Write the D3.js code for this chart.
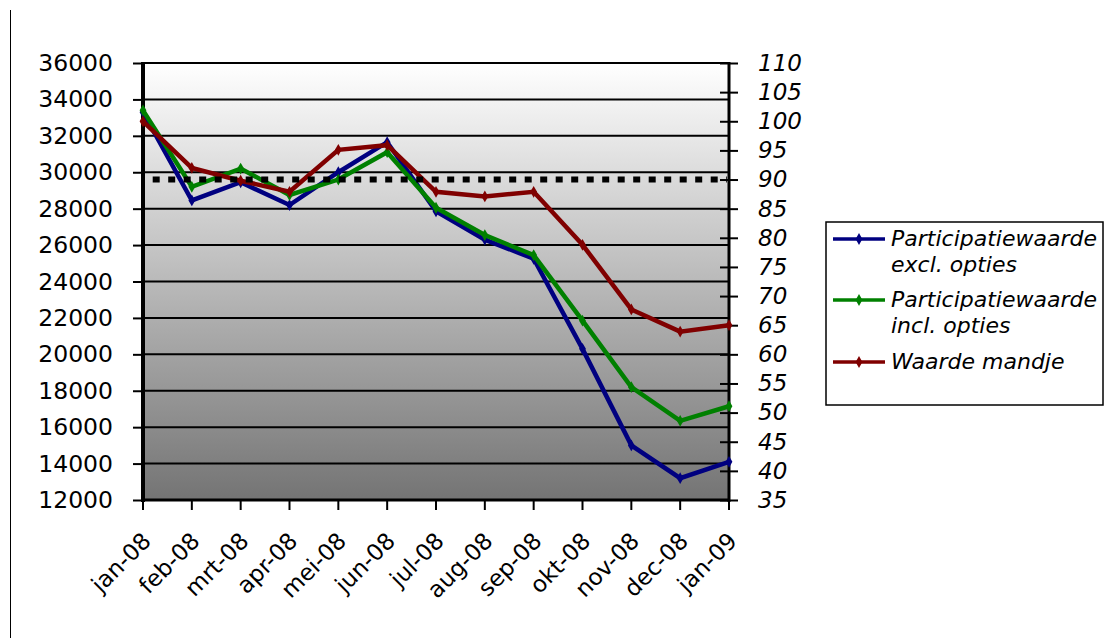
<!DOCTYPE html>
<html>
<head>
<meta charset="utf-8">
<script src="https://cdn.jsdelivr.net/npm/d3@7"></script>
<style>
html,body{margin:0;padding:0;background:#fff;}
svg{display:block;font-family:"DejaVu Sans",Verdana,sans-serif;}
</style>
</head>
<body>
<svg id="chart" width="1109" height="643"></svg>
<script>
const months = ["jan-08","feb-08","mrt-08","apr-08","mei-08","jun-08","jul-08","aug-08","sep-08","okt-08","nov-08","dec-08","jan-09"];
const exclOpties = [33300,28450,29450,28200,30000,31650,27850,26300,25250,20300,15000,13200,14100];
const inclOpties = [33400,29200,30200,28750,29600,31100,28050,26550,25450,21850,18200,16350,17150];
const waardeMandje = [100,92,89.8,87.9,95.1,95.9,87.9,87.1,87.9,78.8,67.7,63.9,65];
const referentie = 90;
const leftTicks = [12000,14000,16000,18000,20000,22000,24000,26000,28000,30000,32000,34000,36000];
const rightTicks = [35,40,45,50,55,60,65,70,75,80,85,90,95,100,105,110];
const seriesNames = ["Participatiewaarde excl. opties","Participatiewaarde incl. opties","Waarde mandje"];
const seriesColors = ["#000080","#008000","#800000"];

const svg = d3.select("#chart");
const L = 143, R = 729, T = 63, B = 500;

const x = d3.scalePoint().domain(months).range([L, R]);
const yL = d3.scaleLinear().domain([12000, 36000]).range([B, T]);
const yR = d3.scaleLinear().domain([35, 110]).range([B, T]);

// outer left frame line
svg.append("line").attr("x1",10.5).attr("x2",10.5).attr("y1",10).attr("y2",638)
  .attr("stroke","#000").attr("stroke-width",1);

// gradient background
const defs = svg.append("defs");
const grad = defs.append("linearGradient").attr("id","bg").attr("x1",0).attr("x2",0).attr("y1",0).attr("y2",1);
grad.append("stop").attr("offset","0%").attr("stop-color","#ffffff");
grad.append("stop").attr("offset","100%").attr("stop-color","#747474");
svg.append("rect").attr("x",L).attr("y",T).attr("width",R-L).attr("height",B-T).attr("fill","url(#bg)");

// gridlines
svg.append("g").selectAll("line").data(leftTicks.filter(d=>d>12000)).join("line")
  .attr("x1",L).attr("x2",R).attr("y1",d=>yL(d)).attr("y2",d=>yL(d))
  .attr("stroke","#000").attr("stroke-width",2);

// left axis
const gl = svg.append("g").attr("transform",`translate(${L},0)`)
  .call(d3.axisLeft(yL).tickValues(leftTicks).tickFormat(d=>String(d)).tickSize(10).tickPadding(20));
gl.select(".domain").remove();
gl.selectAll(".tick line").attr("stroke","#000").attr("stroke-width",2);
gl.selectAll(".tick text").attr("font-size",23.5).attr("fill","#000").attr("font-family","DejaVu Sans");
svg.append("line").attr("x1",L).attr("x2",L).attr("y1",T-1).attr("y2",B+2).attr("stroke","#000").attr("stroke-width",4);

// right axis
const gr = svg.append("g").attr("transform",`translate(${R},0)`)
  .call(d3.axisRight(yR).tickValues(rightTicks).tickSize(9).tickPadding(20));
gr.select(".domain").remove();
gr.selectAll(".tick line").attr("x1",-9).attr("stroke","#000").attr("stroke-width",2);
gr.selectAll(".tick text").attr("font-size",23).attr("fill","#000").attr("font-style","italic").attr("font-family","DejaVu Sans");
svg.append("line").attr("x1",R).attr("x2",R).attr("y1",T-1).attr("y2",B+2).attr("stroke","#000").attr("stroke-width",3);

// bottom axis
svg.append("line").attr("x1",L).attr("x2",R+1).attr("y1",B).attr("y2",B).attr("stroke","#000").attr("stroke-width",3);
const gx = svg.append("g");
gx.selectAll("line").data(months).join("line")
  .attr("x1",d=>x(d)).attr("x2",d=>x(d)).attr("y1",B).attr("y2",B+10)
  .attr("stroke","#000").attr("stroke-width",2);
gx.selectAll("text").data(months).join("text")
  .attr("transform",d=>`translate(${x(d)-2},${B+31}) rotate(-45)`)
  .attr("text-anchor","end").attr("dy","0.7em")
  .attr("font-size",23).text(d=>d);

// series
const allSeries = [
  {vals: exclOpties, scale: yL},
  {vals: inclOpties, scale: yL},
  {vals: waardeMandje, scale: yR}
];
const diamond = d3.symbol().type(d3.symbolDiamond).size(40);
allSeries.forEach((s,i)=>{
  const line = d3.line().x((d,j)=>x(months[j])).y(d=>s.scale(d));
  svg.append("path").datum(s.vals).attr("d",line).attr("fill","none")
    .attr("stroke",seriesColors[i]).attr("stroke-width",4.5).attr("stroke-linejoin","miter");
  svg.append("g").selectAll("path").data(s.vals).join("path")
    .attr("d",diamond).attr("transform",(d,j)=>`translate(${x(months[j])},${s.scale(d)})`)
    .attr("fill",seriesColors[i]);
});

// reference dotted line at 90
svg.append("line").attr("x1",L).attr("x2",R-2).attr("y1",yR(referentie)).attr("y2",yR(referentie))
  .attr("stroke","#000").attr("stroke-width",6).attr("stroke-dasharray","7 8.5").attr("stroke-dashoffset",5.8);

// legend
const lg = svg.append("g");
lg.append("rect").attr("x",826).attr("y",222).attr("width",277).attr("height",183)
  .attr("fill","#fff").attr("stroke","#000").attr("stroke-width",1.5);
const legendRows = [
  {lines:["Participatiewaarde","excl. opties"], y:239},
  {lines:["Participatiewaarde","incl. opties"], y:300},
  {lines:["Waarde mandje"], y:362}
];
legendRows.forEach((r,i)=>{
  lg.append("line").attr("x1",833).attr("x2",885).attr("y1",r.y).attr("y2",r.y)
    .attr("stroke",seriesColors[i]).attr("stroke-width",3.5);
  lg.append("path").attr("d",diamond).attr("transform",`translate(859,${r.y})`).attr("fill",seriesColors[i]);
  r.lines.forEach((t,k)=>{
    lg.append("text").attr("x",891).attr("y",r.y + 6.5 + k*26.5)
      .attr("font-size",22).attr("font-style","italic").text(t);
  });
});
</script>
</body>
</html>
